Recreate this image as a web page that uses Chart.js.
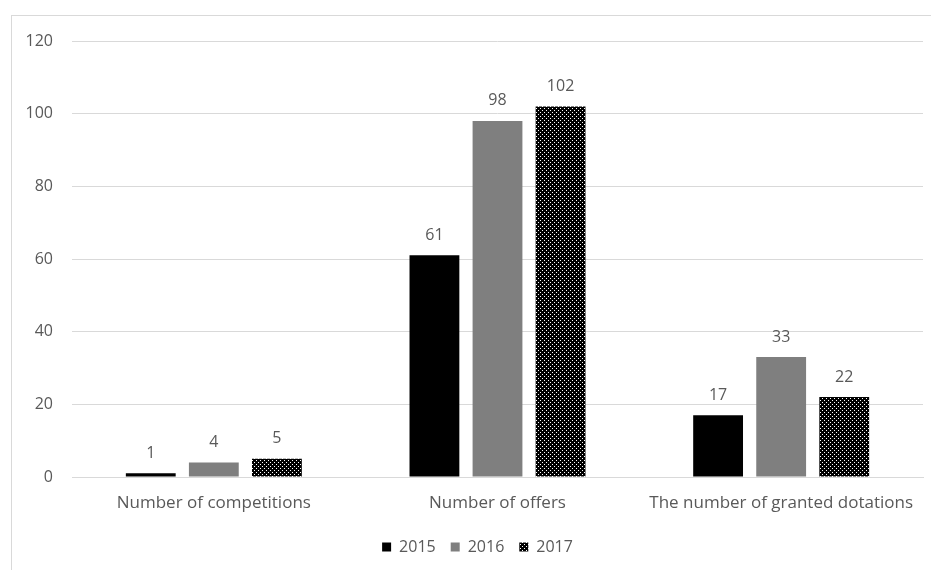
<!DOCTYPE html>
<html lang="en">
<head>
  <meta charset="UTF-8" />
  <title>Competitions, offers and dotations</title>
  <script src="https://cdn.jsdelivr.net/npm/chart.js"></script>
  <style>
    body { margin:0; background:#fff; width:931px; height:570px; overflow:hidden; position:relative; }
    .frame { position:absolute; left:11px; top:15px; width:1000px; height:1000px; border:1px solid #d9d9d9; box-sizing:border-box; }
    #wrap { position:absolute; left:0; top:0; width:931px; height:570px; }
  </style>
</head>
<body>
  <div class="frame"></div>
  <div id="wrap"><canvas id="chart"></canvas></div>

  <script>
    const categories = ['Number of competitions', 'Number of offers', 'The number of granted dotations'];
    const years = ['2015', '2016', '2017'];
    const values2015 = [1, 61, 17];
    const values2016 = [4, 98, 33];
    const values2017 = [5, 102, 22];
    const yTicks = [0, 20, 40, 60, 80, 100, 120];

    const textColor = '#595959';
    const fontFamily = "'Open Sans', sans-serif";
    const fontSize = 16;

    // dotted fill for 2017 (black with white dots)
    function dotPattern() {
      const c = document.createElement('canvas');
      c.width = 4; c.height = 4;
      const g = c.getContext('2d');
      g.fillStyle = '#000';
      g.fillRect(0, 0, 4, 4);
      g.fillStyle = '#fff';
      g.fillRect(0, 0, 1, 1);
      g.fillRect(2, 2, 1, 1);
      return g.createPattern(c, 'repeat');
    }

    // values above bars
    const valueLabels = {
      id: 'valueLabels',
      afterDatasetsDraw(chart) {
        const ctx = chart.ctx;
        ctx.save();
        ctx.fillStyle = textColor;
        ctx.font = fontSize + "px " + fontFamily;
        ctx.textAlign = 'center';
        ctx.textBaseline = 'bottom';
        chart.data.datasets.forEach((ds, i) => {
          chart.getDatasetMeta(i).data.forEach((bar, j) => {
            ctx.fillText(ds.data[j], bar.x, bar.y - 12);
          });
        });
        ctx.restore();
      }
    };

    // legend sits a bit right of centre in the original
    const legendShift = {
      id: 'legendShift',
      afterLayout(chart) {
        chart.legend.left += 16;
        chart.legend.right += 16;
      }
    };

    new Chart(document.getElementById('chart'), {
      type: 'bar',
      data: {
        labels: categories,
        datasets: [
          { label: years[0], data: values2015, backgroundColor: '#000000' },
          { label: years[1], data: values2016, backgroundColor: '#7f7f7f' },
          { label: years[2], data: values2017, backgroundColor: dotPattern() }
        ]
      },
      options: {
        responsive: true,
        maintainAspectRatio: false,
        animation: false,
        categoryPercentage: 0.667,
        barPercentage: 0.79,
        layout: { padding: { left: 0, right: 8, top: 41, bottom: 5 } },
        plugins: {
          tooltip: { enabled: false },
          legend: {
            position: 'bottom',
            labels: {
              color: textColor,
              font: { family: fontFamily, size: fontSize },
              boxWidth: 9,
              boxHeight: 9,
              padding: 15
            }
          }
        },
        scales: {
          x: {
            grid: { display: false, drawTicks: false },
            border: { display: true, color: '#d9d9d9' },
            ticks: { color: textColor, font: { family: fontFamily, size: 17 }, padding: 16, maxRotation: 0 },
            afterFit: s => { s.height = 47; }
          },
          y: {
            min: 0,
            max: 120,
            afterBuildTicks: s => { s.ticks = yTicks.map(v => ({ value: v })); },
            grid: { color: '#d9d9d9', drawTicks: false },
            border: { display: false },
            ticks: { color: textColor, font: { family: fontFamily, size: fontSize }, padding: 19 },
            afterFit: s => { s.width = 72; }
          }
        }
      },
      plugins: [valueLabels, legendShift]
    });
  </script>
</body>
</html>
